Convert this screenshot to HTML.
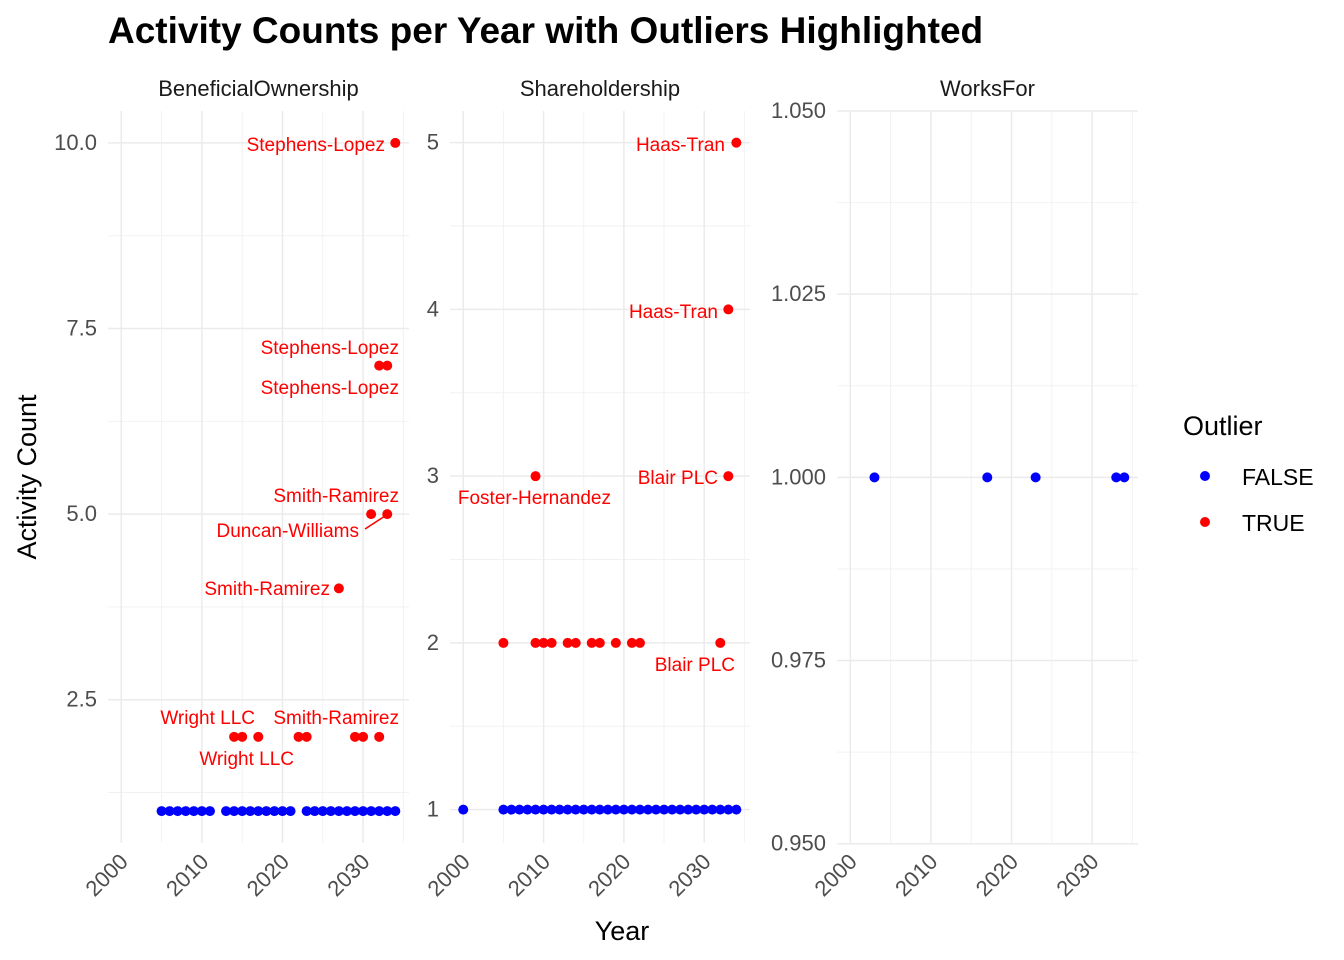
<!DOCTYPE html>
<html><head><meta charset="utf-8"><style>
body{margin:0;background:#fff}
svg{display:block;font-family:"Liberation Sans",Arial,sans-serif}
</style></head><body>
<svg id="chart" width="1344" height="960" viewBox="0 0 1344 960">
<text x="108" y="43" font-size="37" font-weight="bold" fill="#000">Activity Counts per Year with Outliers Highlighted</text>
<text x="622" y="940" font-size="27" text-anchor="middle" fill="#000">Year</text>
<text transform="translate(36,477) rotate(-90)" font-size="27" text-anchor="middle" fill="#000">Activity Count</text>
<g>
<text x="1183" y="435" font-size="27" fill="#000">Outlier</text>
<g><circle cx="1205" cy="476" r="5" fill="#0000ff"/><text x="1242" y="485" font-size="23" fill="#000">FALSE</text></g>
<g><circle cx="1205" cy="522" r="5" fill="#ff0000"/><text x="1242" y="531" font-size="23" fill="#000">TRUE</text></g>
</g>
<g id="panels"></g>
</svg>
<script>
const panelNames=["BeneficialOwnership","Shareholdership","WorksFor"];
const p1BlueYears=[2005,2006,2007,2008,2009,2010,2011,2013,2014,2015,2016,2017,2018,2019,2020,2021,2023,2024,2025,2026,2027,2028,2029,2030,2031,2032,2033,2034];
const p1RedYears=[2014,2015,2017,2022,2023,2029,2030,2032,2027,2031,2033,2032,2033,2034];
const p1RedCounts=[2,2,2,2,2,2,2,2,4,5,5,7,7,10];
const p2BlueYears=[2000].concat([...Array(30).keys()].map(i=>2005+i));
const p2RedYears=[2005,2009,2010,2011,2013,2014,2016,2017,2019,2021,2022,2032,2009,2033,2033,2034];
const p2RedCounts=[2,2,2,2,2,2,2,2,2,2,2,2,3,3,4,5];
const p3BlueYears=[2003,2017,2023,2033,2034];
const p1YTicks=[2.5,5.0,7.5,10.0];
const p2YTicks=[1,2,3,4,5];
const p3YTicks=[0.950,0.975,1.000,1.025,1.050];
const xTicks=[2000,2010,2020,2030];
const panels=[
 {x0:108,x1:409,ymin:0.57,ymax:10.43,ticks:p1YTicks,dec:1,minor:[1.25,3.75,6.25,8.75],blue:p1BlueYears.map(y=>[y,1]),red:p1RedYears.map((y,i)=>[y,p1RedCounts[i]]),
  labels:[["Stephens-Lopez",385,151],["Stephens-Lopez",399,354],["Stephens-Lopez",399,394],["Smith-Ramirez",399,502],["Duncan-Williams",359,537],["Smith-Ramirez",330,595],["Wright LLC",255,724],["Smith-Ramirez",399,724],["Wright LLC",294,765]]},
 {x0:450,x1:750,ymin:0.8,ymax:5.19,ticks:p2YTicks,dec:0,minor:[1.5,2.5,3.5,4.5],blue:p2BlueYears.map(y=>[y,1]),red:p2RedYears.map((y,i)=>[y,p2RedCounts[i]]),
  labels:[["Haas-Tran",725,151],["Haas-Tran",718,318],["Blair PLC",718,484],["Foster-Hernandez",611,504],["Blair PLC",735,671]]},
 {x0:837,x1:1138,ymin:0.9501,ymax:1.05,ticks:p3YTicks,dec:3,minor:[0.9625,0.9875,1.0125,1.0375],blue:p3BlueYears.map(y=>[y,1]),red:[],labels:[]}
];
const NS="http://www.w3.org/2000/svg";
const root=document.getElementById('panels');
function mk(t,a,p){const e=document.createElementNS(NS,t);for(const k in a)e.setAttribute(k,a[k]);(p||root).appendChild(e);return e;}
const T=111,B=843;
panels.forEach((P,pi)=>{
 const g=mk('g',{});
 
 
 const sx=v=>P.x0+(v-1998.35)/(2035.7-1998.35)*(P.x1-P.x0);
 const sy=v=>B-(v-P.ymin)/(P.ymax-P.ymin)*(B-T);
 P.minor.forEach(v=>mk('line',{x1:P.x0,x2:P.x1,y1:sy(v),y2:sy(v),stroke:'#f2f2f2','stroke-width':1},g));
 [2005,2015,2025,2035].forEach(v=>mk('line',{x1:sx(v),x2:sx(v),y1:T,y2:B,stroke:'#f2f2f2','stroke-width':1},g));
 P.ticks.forEach(v=>{mk('line',{x1:P.x0,x2:P.x1,y1:sy(v),y2:sy(v),stroke:'#ebebeb','stroke-width':1.5},g);
  const t=mk('text',{x:P.x0-11,y:sy(v)+7,'text-anchor':'end','font-size':22,fill:'#4d4d4d'},g);t.textContent=v.toFixed(P.dec);
  });
 xTicks.forEach(v=>{mk('line',{x1:sx(v),x2:sx(v),y1:T,y2:B,stroke:'#ebebeb','stroke-width':1.5},g);
  const t=mk('text',{transform:`translate(${sx(v)+8},${B+20}) rotate(-45)`,'text-anchor':'end','font-size':22,fill:'#4d4d4d'},g);t.textContent=v;
  });
 const st=mk('text',{x:(P.x0+P.x1)/2,y:96,'text-anchor':'middle','font-size':22,fill:'#1a1a1a'},g);st.textContent=panelNames[pi];
 
 P.blue.forEach(d=>{const c=mk('circle',{cx:sx(d[0]),cy:sy(d[1]),r:5,fill:'#0000ff'},g);
  });
 P.red.forEach(d=>{const c=mk('circle',{cx:sx(d[0]),cy:sy(d[1]),r:5,fill:'#ff0000'},g);
  });
 P.labels.forEach(l=>{const t=mk('text',{x:l[1],y:l[2],'text-anchor':'end','font-size':19,fill:'#ff0000'},g);t.textContent=l[0];
  });
 if(pi===0){const s=mk('line',{x1:365,y1:529,x2:385,y2:516,stroke:'#ff0000','stroke-width':1.5},g);
  }
});
</script>
</body></html>
